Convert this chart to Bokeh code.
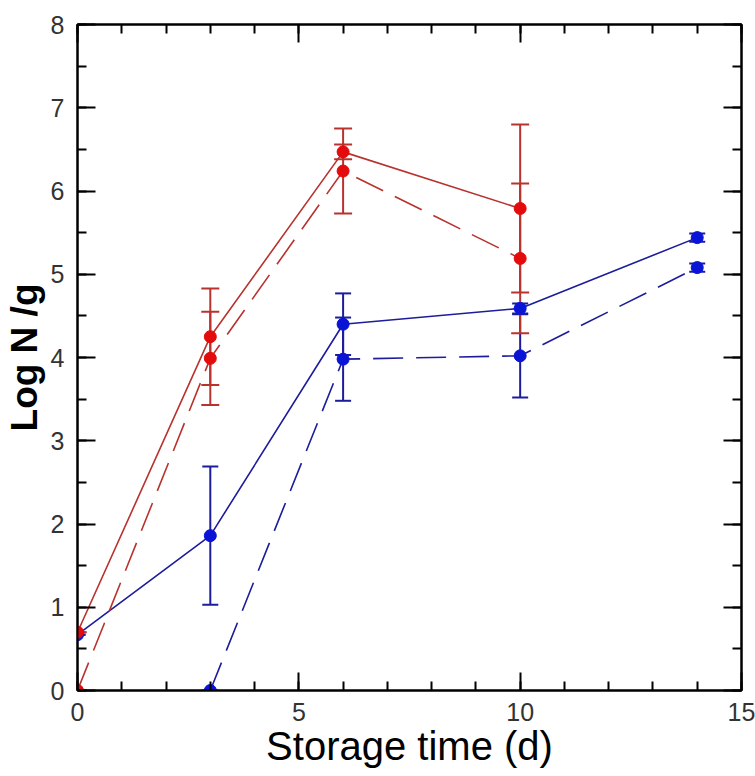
from bokeh.plotting import figure
from bokeh.models import Range1d, LinearAxis, FixedTicker, Whisker, TeeHead, ColumnDataSource
from bokeh.embed import file_html
from bokeh.resources import INLINE

# ---- data ----
red_solid_x = [0, 3, 6, 10]
red_solid_y = [0.70, 4.25, 6.47, 5.79]
red_solid_err = [0.0, 0.58, 0.09, 1.01]

red_dash_x = [0, 3, 6, 10]
red_dash_y = [0.0, 3.99, 6.24, 5.19]
red_dash_err = [0.0, 0.56, 0.51, 0.90]

blue_solid_x = [0, 3, 6, 10, 14]
blue_solid_y = [0.67, 1.86, 4.40, 4.59, 5.44]
blue_solid_err = [0.0, 0.83, 0.37, 0.06, 0.05]

blue_dash_x = [3, 6, 10, 14]
blue_dash_y = [0.0, 3.98, 4.02, 5.08]
blue_dash_err = [0.0, 0.50, 0.50, 0.05]

x_major = [0, 5, 10, 15]
x_minor = list(range(0, 16))
y_major = [0, 1, 2, 3, 4, 5, 6, 7, 8]
y_minor = [i * 0.5 for i in range(0, 17)]

x_title = "Storage time (d)"
y_title = "Log N /g"

RED_LINE = "#b8322e"
RED_MARK = "#e30b0b"
BLUE_LINE = "#1c1c9c"
BLUE_MARK = "#0a14d6"
DASH = "30 13"

p = figure(width=755, height=776,
           x_range=Range1d(0, 15), y_range=Range1d(0, 8),
           output_backend="svg", toolbar_location=None,
           min_border_left=77, min_border_top=24,
           min_border_right=14, min_border_bottom=86,
           x_axis_label=x_title, y_axis_label=y_title)
p.xgrid.visible = False
p.ygrid.visible = False
p.outline_line_color = "black"
p.outline_line_width = 2
p.background_fill_color = "white"
p.border_fill_color = "white"

def style_axis(ax, major, minor, show_labels=True):
    ax.ticker = FixedTicker(ticks=major, minor_ticks=minor)
    ax.axis_line_color = "black"
    ax.axis_line_width = 2
    ax.major_tick_line_color = "black"
    ax.major_tick_line_width = 2
    ax.minor_tick_line_color = "black"
    ax.minor_tick_line_width = 2
    ax.major_tick_in = 18
    ax.major_tick_out = 0
    ax.minor_tick_in = 9
    ax.minor_tick_out = 0
    ax.major_label_text_font = "Liberation Sans"
    ax.major_label_text_font_size = "25px"
    ax.major_label_text_color = "#333333"
    if not show_labels:
        ax.major_label_overrides = {t: "" for t in major}
        ax.major_label_standoff = 0

xa = p.xaxis[0]
style_axis(xa, x_major, x_minor)
xa.major_label_standoff = 12
xa.axis_label_text_font = "Liberation Sans"
xa.axis_label_text_font_size = "40px"
xa.axis_label_text_font_style = "normal"
xa.axis_label_text_color = "black"
xa.axis_label_standoff = 0

ya = p.yaxis[0]
style_axis(ya, y_major, y_minor)
ya.major_label_standoff = 13
ya.major_label_orientation = "horizontal"
ya.axis_label_text_font = "Liberation Sans"
ya.axis_label_text_font_size = "37px"
ya.axis_label_text_font_style = "bold"
ya.axis_label_text_color = "black"
ya.axis_label_standoff = 3

top = LinearAxis()
style_axis(top, x_major, x_minor, show_labels=False)
p.add_layout(top, "above")
right = LinearAxis()
style_axis(right, y_major, y_minor, show_labels=False)
p.add_layout(right, "right")

def series(xs, ys, errs, line_color, mark_color, dash, cap):
    src = ColumnDataSource(dict(x=xs, y=ys,
                                upper=[a + b for a, b in zip(ys, errs)],
                                lower=[a - b for a, b in zip(ys, errs)]))
    p.line("x", "y", source=src, line_color=line_color, line_width=1.6, line_dash=dash)
    w = Whisker(base="x", upper="upper", lower="lower", source=src, dimension="height",
                line_color=line_color, line_width=2,
                upper_head=TeeHead(size=cap, line_color=line_color, line_width=2),
                lower_head=TeeHead(size=cap, line_color=line_color, line_width=2))
    p.add_layout(w)
    p.scatter("x", "y", source=src, size=12, fill_color=mark_color, line_color=mark_color)

series(blue_dash_x, blue_dash_y, blue_dash_err, BLUE_LINE, BLUE_MARK, DASH, 16)
series(blue_solid_x, blue_solid_y, blue_solid_err, BLUE_LINE, BLUE_MARK, "solid", 16)
series(red_dash_x, red_dash_y, red_dash_err, RED_LINE, RED_MARK, DASH, 18)
series(red_solid_x, red_solid_y, red_solid_err, RED_LINE, RED_MARK, "solid", 18)

open("out.html", "w").write(file_html(p, INLINE))
